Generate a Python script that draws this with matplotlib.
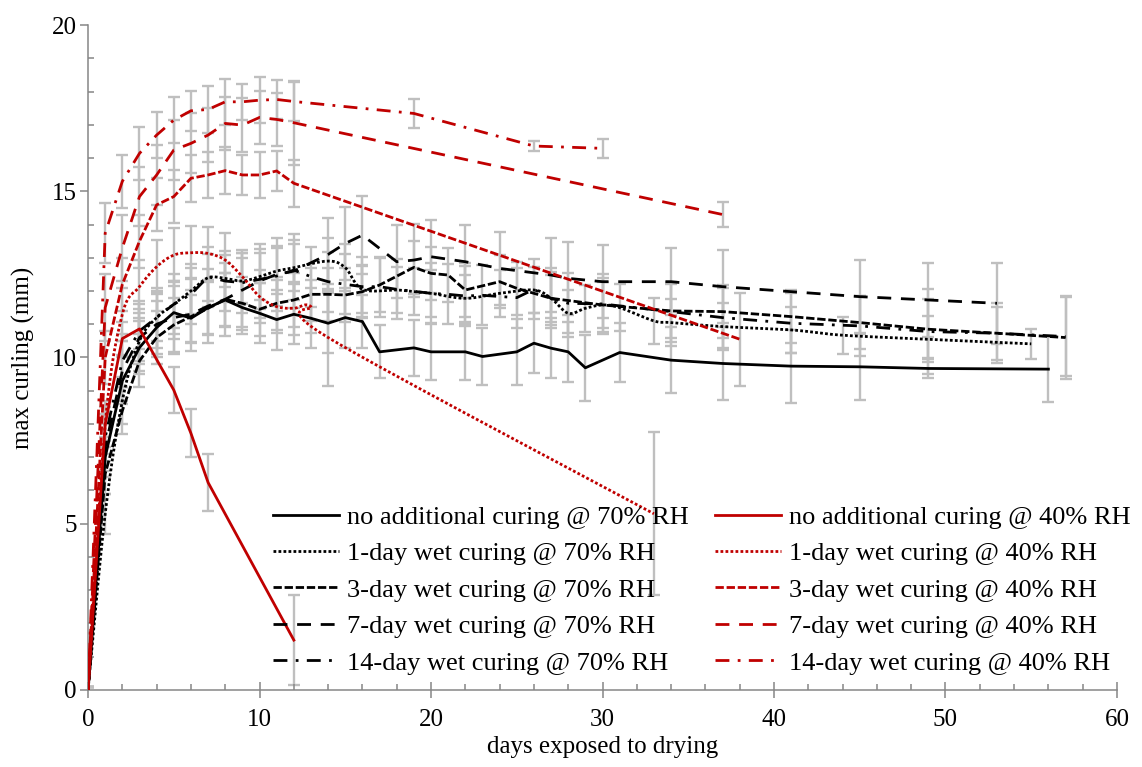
import matplotlib.pyplot as plt
import numpy as np

# ---- data (days exposed to drying, max curling in mm, error bar half-width) ----
days_n70 = [0, 1, 2, 3, 4, 5, 6, 7, 8, 9, 10, 11, 12, 13, 14, 15, 16, 17, 19, 20, 22, 23, 25, 26, 27, 28, 29, 31, 34, 37, 41, 45, 49, 56]
curl_n70 = [0, 7.0, 9.3, 10.3, 10.9, 11.35, 11.18, 11.5, 11.73, 11.5, 11.33, 11.14, 11.3, 11.18, 11.03, 11.2, 11.08, 10.17,
            10.29, 10.17, 10.17, 10.03, 10.17, 10.43, 10.28, 10.17, 9.69, 10.15, 9.92, 9.82, 9.74, 9.72, 9.67, 9.65]
err_n70 = [0.1, 0.6, 0.7, 0.8, 0.8, 0.8, 0.7, 0.8, 0.8, 0.8, 0.9, 0.9, 0.9, 0.9, 0.9, 0.9, 0.8, 0.8,
           0.85, 0.85, 0.85, 0.85, 1.0, 0.9, 0.9, 0.9, 1.0, 0.9, 1.0, 1.1, 1.1, 1.0, 0.3, 1.0]

days_1d70 = [0, 1, 2, 3, 4, 5, 6, 7, 8, 9, 10, 11, 12, 14, 15, 16, 18, 19, 20, 22, 24, 26, 27, 28, 29, 30, 31, 33, 34, 37, 41, 44, 49, 55]
curl_1d70 = [0, 5.3, 8.7, 10.5, 11.2, 11.6, 12.0, 12.4, 12.38, 12.3, 12.43, 12.6, 12.7,
             12.9, 12.7, 12.05, 12.03, 11.98, 11.93, 11.78, 11.93, 12.03, 11.78, 11.33, 11.48, 11.58, 11.5, 11.1, 11.05,
             10.93, 10.83, 10.67, 10.55, 10.41]
err_1d70 = [0.1, 0.6, 0.7, 0.7, 0.7, 0.7, 0.7, 0.7, 0.7, 0.7, 0.7, 0.7, 0.7,
            0.7, 0.7, 0.7, 0.7, 0.7, 0.7, 0.7, 0.7, 0.7, 0.7, 0.7, 0.7, 0.7, 0.7, 0.7, 0.7,
            0.7, 0.7, 0.56, 0.7, 0.45]

days_3d70 = [0, 1, 2, 3, 4, 5, 6, 7, 8, 9, 10, 11, 12, 13, 14, 15, 16, 17, 19, 20, 21, 22, 24, 25, 27, 30, 34, 37, 41, 45, 49, 53, 57]
curl_3d70 = [0, 6.5, 8.4, 9.9, 10.6, 10.98, 11.23, 11.48, 11.75, 11.63, 11.45, 11.63, 11.73, 11.9, 11.9, 11.88, 11.98, 12.18,
             12.71, 12.53, 12.48, 12.03, 12.28, 12.08, 11.78, 11.58, 11.4, 11.38, 11.23, 11.05, 10.85, 10.73, 10.6]
err_3d70 = [0.1, 0.6, 0.7, 0.8, 0.8, 0.8, 0.8, 0.8, 0.8, 0.8, 0.8, 0.8, 0.8, 0.8, 0.8, 0.8, 0.8, 0.8,
            0.8, 0.8, 0.8, 0.8, 0.8, 0.8, 0.8, 0.8, 0.8, 0.8, 0.8, 0.8, 0.9, 0.8, 1.25]

days_7d70 = [0, 1, 2, 3, 4, 5, 6, 7, 8, 9, 10, 11, 12, 14, 15, 16, 18, 19, 20, 22, 24, 27, 28, 30, 34, 37, 45, 49, 53]
curl_7d70 = [0, 7.3, 9.6, 10.6, 11.0, 11.2, 11.3, 11.55, 11.75, 12.03, 12.3, 12.5, 12.6,
             13.1, 13.43, 13.68, 12.88, 12.93, 13.03, 12.88, 12.68, 12.48, 12.38, 12.28, 12.28, 12.13, 11.83, 11.73, 11.63]
err_7d70 = [0.1, 0.7, 0.9, 1.0, 1.0, 1.1, 1.1, 1.1, 1.1, 1.1, 1.1, 1.1, 1.1,
            1.1, 1.1, 1.18, 1.1, 1.1, 1.1, 1.1, 1.1, 1.1, 1.1, 1.1, 1.0, 1.1, 1.1, 1.1, 1.22]

days_14d70 = [0, 1, 2, 3, 4, 5, 6, 7, 8, 9, 10, 11, 12, 13, 14, 15, 16, 17, 18, 20, 21, 22, 23, 25, 26, 27, 28, 30, 34, 37, 41, 45, 49, 53, 57]
curl_14d70 = [0, 7.6, 9.9, 10.8, 11.2, 11.6, 11.9, 12.43, 12.3, 12.25, 12.35, 12.45, 12.63, 12.43, 12.28, 12.2, 12.13, 12.13, 12.05,
              11.93, 11.9, 11.85, 11.87, 11.8, 12.05, 11.78, 11.63, 11.61, 11.38, 11.2, 11.03, 10.95, 10.78, 10.73, 10.63]
err_14d70 = [0.1, 0.7, 0.8, 0.9, 0.9, 0.9, 0.9, 0.9, 0.9, 0.9, 0.9, 0.9, 0.9, 0.9, 0.9, 0.9, 0.9, 0.9, 0.9,
             0.9, 0.9, 0.9, 0.9, 0.9, 0.9, 0.9, 0.9, 0.9, 0.9, 0.9, 0.9, 0.9, 1.27, 0.9, 1.2]

days_n40 = [0, 1, 2, 3, 5, 6, 7, 12]
curl_n40 = [0, 8.0, 10.57, 10.86, 9.02, 7.72, 6.24, 1.5]
err_n40 = [0.1, 0.5, 0.5, 0.6, 0.68, 0.72, 0.87, 1.35]

days_1d40 = [0, 1, 2, 3, 4, 5, 6, 7, 8, 9, 10, 11, 12, 13, 14, 33]
curl_1d40 = [0, 8.0, 11.3, 12.13, 12.73, 13.08, 13.15, 13.13, 12.93, 12.43, 11.83, 11.53, 11.48, 11.53, 10.6, 5.3]
err_1d40 = [0.1, 0.7, 0.8, 0.8, 0.8, 0.8, 0.8, 0.8, 0.8, 0.8, 0.8, 0.8, 0.8, 0.8, 1.45, 2.45]

days_3d40 = [0, 1, 2, 3, 4, 5, 6, 7, 8, 9, 10, 11, 12, 38]
curl_3d40 = [0, 10.0, 12.2, 13.5, 14.59, 14.84, 15.39, 15.49, 15.62, 15.49, 15.49, 15.61, 15.24, 10.55]
err_3d40 = [0.1, 0.8, 0.8, 0.8, 0.8, 0.8, 0.7, 0.7, 0.7, 0.6, 0.7, 0.6, 0.7, 1.4]

days_7d40 = [0, 1, 2, 3, 4, 5, 6, 7, 8, 9, 10, 11, 12, 37]
curl_7d40 = [0, 11.5, 13.3, 14.84, 15.49, 16.24, 16.44, 16.69, 17.04, 16.99, 17.22, 17.16, 17.06, 14.3]
err_7d40 = [0.1, 1.0, 1.0, 0.9, 0.9, 0.9, 0.9, 0.8, 0.8, 0.8, 0.8, 0.8, 1.27, 0.39]

days_14d40 = [0, 1, 2, 3, 4, 5, 6, 7, 8, 9, 10, 11, 12, 19, 26, 30]
curl_14d40 = [0, 13.74, 15.3, 16.14, 16.69, 17.14, 17.42, 17.46, 17.69, 17.69, 17.74, 17.76, 17.7, 17.34, 16.36, 16.29]
err_14d40 = [0.1, 0.9, 0.8, 0.8, 0.7, 0.7, 0.6, 0.7, 0.7, 0.55, 0.7, 0.6, 0.6, 0.43, 0.15, 0.28]

labels = ['no additional curing @ 70% RH', '1-day wet curing @ 70% RH', '3-day wet curing @ 70% RH',
          '7-day wet curing @ 70% RH', '14-day wet curing @ 70% RH',
          'no additional curing @ 40% RH', '1-day wet curing @ 40% RH', '3-day wet curing @ 40% RH',
          '7-day wet curing @ 40% RH', '14-day wet curing @ 40% RH']


def smooth(x, y, n=16):
    # Catmull-Rom curve through the points, like Excel's "smoothed line"
    pts = np.column_stack([x, y]).astype(float)
    p = np.vstack([pts[0], pts, pts[-1]])
    t = np.linspace(0, 1, n, endpoint=False)[:, None]
    out = []
    for i in range(1, len(p) - 2):
        p0, p1, p2, p3 = p[i - 1], p[i], p[i + 1], p[i + 2]
        out.append(0.5 * (2 * p1 + (p2 - p0) * t + (2 * p0 - 5 * p1 + 4 * p2 - p3) * t ** 2
                          + (-p0 + 3 * p1 - 3 * p2 + p3) * t ** 3))
    out.append(pts[-1:])
    c = np.vstack(out)
    return c[:, 0], c[:, 1]


plt.rcParams['font.family'] = ['Liberation Serif', 'DejaVu Serif']
plt.rcParams['font.size'] = 18

fig = plt.figure(figsize=(11.42, 7.67), dpi=100)
ax = fig.add_axes([0.0771, 0.1004, 0.9010, 0.8670])

red = '#C00000'
styles = {
    'solid': '-',
    'dot': (0, (1, 0.8)),
    'sdash': (0, (3, 1)),
    'ldash': (0, (5, 3.5)),
    'dashdot': (0, (5, 3, 1, 3)),
}

series = [
    (days_n70, curl_n70, err_n70, 'black', 'solid', False),
    (days_1d70, curl_1d70, err_1d70, 'black', 'dot', True),
    (days_3d70, curl_3d70, err_3d70, 'black', 'sdash', False),
    (days_7d70, curl_7d70, err_7d70, 'black', 'ldash', False),
    (days_14d70, curl_14d70, err_14d70, 'black', 'dashdot', False),
    (days_n40, curl_n40, err_n40, red, 'solid', False),
    (days_1d40, curl_1d40, err_1d40, red, 'dot', True),
    (days_3d40, curl_3d40, err_3d40, red, 'sdash', False),
    (days_7d40, curl_7d40, err_7d40, red, 'ldash', False),
    (days_14d40, curl_14d40, err_14d40, red, 'dashdot', False),
]

for (d, c, e, col, ls, sm), lab in zip(series, labels):
    ax.errorbar(d, c, yerr=e, fmt='none', ecolor='#BFBFBF', elinewidth=1.7,
                capsize=4.5, capthick=1.7, zorder=1)
for (d, c, e, col, ls, sm), lab in zip(series, labels):
    xs, ys = smooth(d, c) if sm else (d, c)
    ax.plot(xs, ys, color=col, lw=2.0, linestyle=styles[ls], dash_capstyle='butt',
            label=lab, zorder=3)

ax.set_xlim(0, 60)
ax.set_ylim(0, 20)
ax.set_xticks(np.arange(0, 61, 10))
ax.set_xticks(np.arange(0, 61, 2), minor=True)
ax.set_yticks(np.arange(0, 21, 5))
ax.set_yticks(np.arange(0, 21, 1), minor=True)

axc = '#868686'
for s in ['top', 'right']:
    ax.spines[s].set_visible(False)
for s in ['left', 'bottom']:
    ax.spines[s].set_color(axc)
    ax.spines[s].set_linewidth(1.1)
ax.tick_params(axis='y', which='major', direction='out', length=6, width=1.1, color=axc, pad=2)
ax.tick_params(axis='x', which='major', direction='inout', length=11, width=1.1, color=axc, pad=8)
ax.tick_params(which='minor', direction='in', length=4, width=1.1, color=axc)

ax.set_xlabel('days exposed to drying', labelpad=4)
ax.set_ylabel('max curling (mm)', labelpad=12)

ax.legend(ncol=2, frameon=False, loc='center', bbox_to_anchor=(0.6147, 0.2308),
          bbox_transform=fig.transFigure, handlelength=2.5, handletextpad=0.3,
          columnspacing=1.0, labelspacing=0.49, fontsize=19)

fig.savefig('out.png', dpi=100)
